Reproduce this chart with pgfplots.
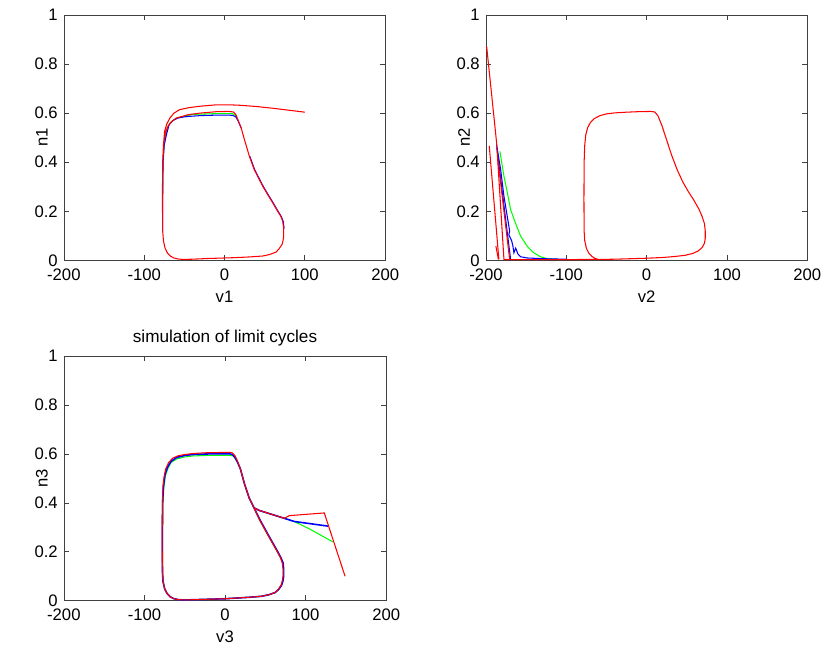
\documentclass[border=0pt]{standalone}
\usepackage{fontspec}
\setmainfont{Liberation Sans}
\usepackage{pgfplots}
\pgfplotsset{compat=1.18}

\definecolor{mred}{RGB}{255,0,0}
\definecolor{mblue}{RGB}{0,0,255}
\definecolor{mgreen}{RGB}{0,255,0}

\pgfplotsset{
  mat/.style={
    scale only axis,
    anchor=south west,
    xmin=-200, xmax=200, ymin=0, ymax=1,
    xtick={-200,-100,0,100,200},
    ytick={0,0.2,0.4,0.6,0.8,1},
    tick align=inside,
    major tick length=3pt,
    axis line style={black!75},
    every tick/.style={black!75},
    /pgf/number format/assume math mode=true,
    tick label style={font=\fontsize{9.5}{11}\selectfont},
    label style={font=\fontsize{9.5}{11}\selectfont},
    xticklabel style={yshift=-1pt},
    xlabel style={at={(axis description cs:0.5,-0.146)}, anchor=center},
    ylabel style={at={(axis description cs:-0.068,0.5)}, anchor=center},
    every axis plot/.append style={line width=0.6pt},
  }
}

\begin{document}
\begin{tikzpicture}
\path (0,0) rectangle (16.54,12.98);

% ---------- n1 vs v1 ----------
\begin{axis}[mat, at={(1.28cm,7.76cm)}, width=6.44cm, height=4.92cm,
  xlabel={v1}, ylabel={n1}]
\addplot[mgreen] coordinates {
(17,0.570)(14,0.590)(10,0.598)(-10,0.598)(-40,0.595)(-60,0.580)(-68,0.560)
(-72,0.530)(-75,0.480)(-76.8,0.400)(-77,0.250)
};
\addplot[mblue] coordinates {
(20.7,0.540)(17,0.568)(14,0.585)(10,0.591)(5,0.592)(-10,0.592)(-30,0.590)
(-43.5,0.587)(-50,0.585)(-58,0.580)(-64.3,0.570)(-69,0.553)(-72.5,0.510)
(-75,0.470)(-76.5,0.400)(-77,0.250)(-77,0.120)
};
\addplot[mblue] coordinates {
(74.2,0.130)(73,0.160)(70.5,0.180)(66.7,0.200)(60.5,0.235)(54.3,0.268)
(48.5,0.300)(43.9,0.329)(37.5,0.370)(31.5,0.424)
};
\addplot[mred] coordinates {
(100,0.604)(80,0.612)(60,0.620)(40,0.627)(20,0.632)(6,0.634)(-10,0.634)
(-31,0.628)(-45,0.622)(-56,0.614)(-63,0.600)(-68,0.580)(-72,0.555)
(-74.6,0.526)(-76,0.470)(-77,0.400)(-77.3,0.250)(-77,0.120)(-76,0.080)
(-74,0.050)(-71,0.030)(-67,0.017)(-63,0.010)(-58,0.006)(-51.8,0.004)
(-40,0.005)(-20,0.008)(0,0.010)(10,0.011)(30,0.014)(47.5,0.018)(56,0.024)
(64.2,0.034)(68,0.048)(71.6,0.065)(72.8,0.080)(73.7,0.100)(73.7,0.130)
(72.4,0.160)(70,0.180)(66.2,0.200)(60,0.235)(53.8,0.268)(48,0.300)
(43.4,0.329)(37,0.370)(31,0.424)(25,0.490)(20.7,0.540)(17,0.570)
(14,0.595)(11,0.605)(5,0.607)(-10,0.606)(-31,0.600)(-45,0.594)(-60,0.580)
(-66,0.565)(-70.5,0.546)(-73.5,0.520)(-75.5,0.480)(-76.8,0.400)
(-77.2,0.250)(-77,0.120)
};
\end{axis}

% ---------- n2 vs v2 ----------
\begin{axis}[mat, at={(9.74cm,7.76cm)}, width=6.44cm, height=4.92cm,
  xlabel={v2}, ylabel={n2}]
\addplot[mgreen] coordinates {
(-182.6,0.444)(-180,0.390)(-177.6,0.343)(-173,0.270)(-169.3,0.207)
(-163,0.150)(-156.9,0.099)(-148,0.055)(-140.4,0.031)(-132,0.015)
(-123.9,0.007)(-110,0.004)
};
\addplot[mblue] coordinates {
(-186.7,0.470)(-181.7,0.370)(-177.6,0.261)(-174,0.190)(-172,0.150)
(-170.5,0.120)(-171.5,0.105)(-168,0.080)(-166.5,0.060)(-165.2,0.031)
(-163,0.050)(-160,0.025)(-156.9,0.015)(-148.7,0.010)(-128,0.007)
(-100,0.005)
};
\addplot[mblue] coordinates {(-186.5,0.460)(-169.3,0.004)};
\addplot[mred] coordinates {(-195.9,0.467)(-183.9,0.004)};
\addplot[mred] coordinates {(-187.6,0.058)(-184.5,0.004)};
\addplot[mred] coordinates {(-185.5,0.420)(-170.5,0.004)};
\addplot[mred] coordinates {
(-199.1,0.871)(-186.7,0.478)(-177.6,0.004)(-160,0.003)(-130,0.003)
(-100,0.003)(-80,0.004)(-60,0.004)
(-40,0.005)(-20,0.007)(0,0.009)(20,0.012)(35,0.016)(48,0.021)(57,0.028)
(64,0.038)(69,0.052)(72,0.070)(73,0.090)(73,0.120)(72,0.150)(69,0.180)
(65,0.210)(58,0.250)(52,0.280)(45,0.320)(38,0.370)(31,0.430)(25,0.490)
(19,0.550)(14,0.590)(10,0.605)(5,0.607)(-10,0.606)(-25,0.604)(-40,0.601)
(-50,0.597)(-58,0.590)(-65,0.578)(-70,0.562)(-73.5,0.540)(-75.8,0.510)
(-77,0.470)(-77.8,0.400)(-78,0.250)(-77.8,0.120)(-77,0.080)(-75,0.050)
(-72,0.030)(-68,0.016)(-64,0.008)(-60,0.004)
};
\end{axis}

% ---------- n3 vs v3 ----------
\begin{axis}[mat, at={(1.28cm,0.94cm)}, width=6.46cm, height=4.90cm,
  xlabel={v3}, ylabel={n3},
  title={simulation of limit cycles},
  every axis title shift=0pt,
  every axis title/.style={at={(axis description cs:0.5,1)}, anchor=base,
    yshift=0.28cm, font=\fontsize{9.8}{11}\selectfont}]
\addplot[mgreen] coordinates {
(134.3,0.240)(121,0.264)(104.6,0.294)(86,0.324)(73.6,0.337)(42.7,0.369)
(36,0.380)(43,0.330)(48,0.300)(53,0.270)(59,0.235)(65,0.200)(69,0.175)
(71.5,0.155)(72.5,0.130)(72.5,0.100)(71.5,0.080)(70,0.063)(66.5,0.046)
(62,0.033)(54,0.024)(45,0.018)(30,0.014)(10,0.010)(0,0.008)(-20,0.006)
(-40,0.004)(-52,0.003)(-59,0.005)(-64,0.009)(-68,0.016)(-72,0.030)
(-75,0.050)(-77,0.080)(-77.5,0.120)(-77.5,0.250)(-77,0.400)(-76,0.460)
(-74,0.510)(-71,0.540)(-67,0.565)(-60,0.580)(-50,0.588)(-40,0.592)
(-25,0.594)(-10,0.595)(5,0.595)(10,0.592)(13,0.580)(16,0.565)
(19,0.540)(24,0.480)(30,0.420)(36,0.380)
};
\addplot[mblue, line width=0.9pt] coordinates {
(128,0.305)(86,0.324)(73.6,0.337)(42.7,0.369)(36,0.380)(43.5,0.330)
(48.5,0.300)(53.5,0.270)(59.5,0.235)(65.5,0.200)(69.5,0.175)(72,0.155)
(72.8,0.130)(72.8,0.100)(71.8,0.080)(70.2,0.063)(66.5,0.046)(62,0.033)
(54,0.024)(45,0.018)(30,0.014)(10,0.010)(0,0.008)(-20,0.006)(-40,0.004)
(-52,0.003)(-59,0.005)(-64,0.009)(-68,0.016)(-72,0.030)(-75,0.050)
(-77,0.080)(-77.6,0.120)(-77.8,0.250)(-77.4,0.400)(-76.5,0.465)
(-74.5,0.515)(-71.5,0.545)(-67,0.570)(-60,0.586)(-50,0.594)(-40,0.598)
(-25,0.600)(-10,0.601)(5,0.601)(9,0.598)(12,0.588)(15,0.570)
(19,0.540)(24,0.480)(30,0.420)(36,0.380)
};
\addplot[mred] coordinates {
(149,0.100)(123.2,0.359)(79.8,0.348)(73.6,0.337)(42.7,0.369)(36,0.380)
(43,0.330)(48,0.300)(53,0.270)(59,0.235)(65,0.200)(69,0.175)(71,0.155)
(72,0.130)(72,0.100)(71,0.080)(69.5,0.063)(66,0.046)(62,0.033)(54,0.024)
(45,0.018)(30,0.014)(10,0.010)(0,0.008)(-20,0.006)(-40,0.004)(-52,0.003)
(-59,0.005)(-64,0.009)(-68,0.016)(-72,0.030)(-75,0.050)(-77,0.080)
(-77.8,0.120)(-78,0.250)(-77.8,0.400)(-77,0.470)(-75.5,0.510)
(-73.5,0.540)(-70,0.565)(-65,0.583)(-58,0.593)(-50,0.598)(-40,0.602)
(-25,0.605)(-10,0.606)(5,0.607)(9,0.605)(12,0.595)(15,0.575)(19,0.540)
(24,0.480)(30,0.420)(36,0.380)
};
\end{axis}
\end{tikzpicture}
\end{document}
